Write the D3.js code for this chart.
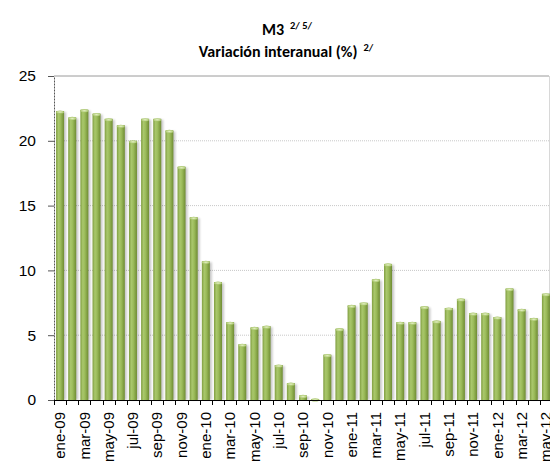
<!DOCTYPE html>
<html>
<head>
<meta charset="utf-8">
<script src="https://cdn.jsdelivr.net/npm/d3@7"></script>
<style>
  body { margin: 0; background: #fff; }
  svg { display: block; font-family: Carlito, Lato, "Open Sans", sans-serif; }
</style>
</head>
<body>
<div id="chart"></div>
<script>
// months shown on the category axis
const MONTHS = [
  "ene-09","feb-09","mar-09","abr-09","may-09","jun-09","jul-09","ago-09","sep-09","oct-09","nov-09","dic-09",
  "ene-10","feb-10","mar-10","abr-10","may-10","jun-10","jul-10","ago-10","sep-10","oct-10","nov-10","dic-10",
  "ene-11","feb-11","mar-11","abr-11","may-11","jun-11","jul-11","ago-11","sep-11","oct-11","nov-11","dic-11",
  "ene-12","feb-12","mar-12","abr-12","may-12"
];
// M3, variacion interanual (%)
const M3_VAR = [
  22.3, 21.8, 22.4, 22.1, 21.7, 21.2, 20.0, 21.7, 21.7, 20.8, 18.0, 14.1,
  10.7, 9.1, 6.0, 4.3, 5.6, 5.7, 2.7, 1.3, 0.35, 0.08, 3.5, 5.5,
  7.3, 7.5, 9.3, 10.5, 6.0, 6.0, 7.2, 6.1, 7.1, 7.8, 6.7, 6.7,
  6.4, 8.6, 7.0, 6.3, 8.2
];
const Y_TICKS = [0, 5, 10, 15, 20, 25];

const WIDTH = 550, HEIGHT = 462;
const margin = {top: 76, left: 54, bottom: 62};
const plotRight = 552;

var svg = d3.select("#chart").append("svg")
  .attr("width", WIDTH)
  .attr("height", HEIGHT);

var defs = svg.append("defs");
var grad = defs.append("linearGradient").attr("id", "barGrad")
  .attr("x1", "0%").attr("x2", "100%").attr("y1", "0%").attr("y2", "0%");
grad.append("stop").attr("offset", "0%").attr("stop-color", "#7f9d3f");
grad.append("stop").attr("offset", "30%").attr("stop-color", "#a9c76c");
grad.append("stop").attr("offset", "55%").attr("stop-color", "#9cbc5b");
grad.append("stop").attr("offset", "100%").attr("stop-color", "#6f8c33");

var capGrad = defs.append("radialGradient").attr("id", "capGrad");
capGrad.append("stop").attr("offset", "0%").attr("stop-color", "#e4f0c4");
capGrad.append("stop").attr("offset", "100%").attr("stop-color", "#a9c66c");

var blur = defs.append("filter").attr("id", "shadow")
  .attr("x", "-50%").attr("y", "-10%").attr("width", "200%").attr("height", "120%");
blur.append("feGaussianBlur").attr("stdDeviation", 1.2);

var x = d3.scaleBand()
  .domain(MONTHS)
  .range([margin.left, plotRight])
  .paddingInner(0.34)
  .paddingOuter(0.17);

var y = d3.scaleLinear()
  .domain([0, 25])
  .range([HEIGHT - margin.bottom, margin.top]);

// gridlines
svg.append("g")
  .selectAll("line")
  .data(Y_TICKS.filter(d => d > 0 && d < 25))
  .enter().append("line")
  .attr("x1", margin.left).attr("x2", WIDTH)
  .attr("y1", d => y(d)).attr("y2", d => y(d))
  .attr("stroke", "#c8c8c8")
  .attr("stroke-dasharray", "1,1");

// plot border top + right
svg.append("line")
  .attr("x1", margin.left).attr("x2", 549)
  .attr("y1", y(25)).attr("y2", y(25))
  .attr("stroke", "#9a9a9a");
svg.append("line")
  .attr("x1", 549.5).attr("x2", 549.5)
  .attr("y1", y(25)).attr("y2", y(0))
  .attr("stroke", "#d8d8d8");

// bars
var bars = svg.append("g").selectAll("g.bar")
  .data(MONTHS.map((m, i) => [m, M3_VAR[i]]))
  .enter().append("g").attr("class", "bar");

bars.append("rect")
  .attr("x", d => x(d[0]) + 2)
  .attr("y", d => y(d[1]) + 1)
  .attr("width", x.bandwidth())
  .attr("height", d => y(0) - y(d[1]) - 1)
  .attr("fill", "#000")
  .attr("opacity", 0.22)
  .attr("filter", "url(#shadow)");

bars.append("rect")
  .attr("x", d => x(d[0]))
  .attr("y", d => y(d[1]))
  .attr("width", x.bandwidth())
  .attr("height", d => y(0) - y(d[1]))
  .attr("fill", "url(#barGrad)");

bars.append("ellipse")
  .attr("cx", d => x(d[0]) + x.bandwidth() / 2)
  .attr("cy", d => y(d[1]) + 1)
  .attr("rx", x.bandwidth() / 2)
  .attr("ry", 1.6)
  .attr("fill", "url(#capGrad)");

// y axis
var yAxis = svg.append("g")
  .attr("transform", "translate(" + margin.left + ",0)")
  .call(d3.axisLeft(y).tickValues(Y_TICKS).tickSize(6).tickSizeOuter(0));
yAxis.select(".domain").attr("stroke", "#555").attr("stroke-dasharray", "2,1");
yAxis.selectAll(".tick line").attr("stroke", "#555");
yAxis.selectAll(".tick text")
  .attr("x", -18)
  .style("font-size", "15.5px")
  .attr("fill", "#000");

// x axis
var xAxis = svg.append("g")
  .attr("transform", "translate(0," + y(0) + ")")
  .call(d3.axisBottom(x).tickValues(MONTHS.filter((m, i) => i % 2 == 0)).tickSize(0).tickSizeOuter(0));
xAxis.select(".domain").attr("stroke", "#000").attr("d", "M" + margin.left + ",0.5H" + plotRight);
xAxis.selectAll(".tick text")
  .attr("transform", "rotate(-90)")
  .attr("x", -12)
  .attr("y", 0)
  .attr("dy", "0.35em")
  .style("text-anchor", "end")
  .style("font-size", "15px")
  .attr("fill", "#000");

// tick marks at category boundaries
svg.append("g").selectAll("line")
  .data(MONTHS)
  .enter().append("line")
  .attr("x1", d => Math.round(x(d) - x.step() * x.paddingInner() / 2) + 0.5)
  .attr("x2", d => Math.round(x(d) - x.step() * x.paddingInner() / 2) + 0.5)
  .attr("y1", y(0)).attr("y2", y(0) + 5)
  .attr("stroke", "#000");

// title
var title = svg.append("text")
  .attr("x", 287).attr("y", 35)
  .attr("text-anchor", "middle")
  .style("font-weight", "bold")
  .style("font-size", "16px");
title.append("tspan").text("M3 ");
title.append("tspan").attr("dy", -6).style("font-size", "10.5px").text("\u00a02/ 5/");

var sub = svg.append("text")
  .attr("x", 286).attr("y", 57)
  .attr("text-anchor", "middle")
  .style("font-weight", "bold")
  .style("font-size", "16px");
sub.append("tspan").text("Variación interanual (%) ");
sub.append("tspan").attr("dy", -6).style("font-size", "10.5px").text("\u00a02/");
</script>
</body>
</html>
